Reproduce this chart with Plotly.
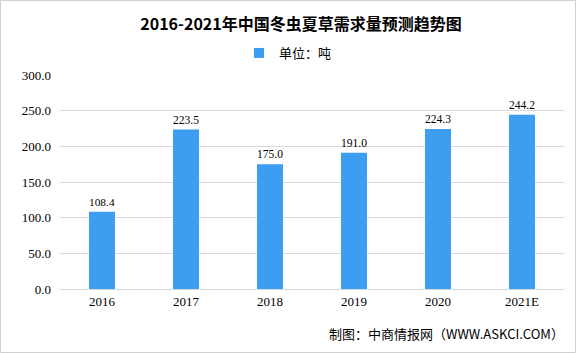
import plotly.graph_objects as go

categories = ["2016", "2017", "2018", "2019", "2020", "2021E"]
values = [108.4, 223.5, 175.0, 191.0, 224.3, 244.2]
series_name = "单位：吨"
title_text = "2016-2021年中国冬虫夏草需求量预测趋势图"
source_text = "制图：中商情报网（WWW.ASKCI.COM）"

L, R, T, B = 60, 12, 75, 64
W, H = 576, 353
pw, ph = W - L - R, H - T - B

def px2x(px):
    return (px - L) / pw

def py2y(py):
    return 1 - (py - T) / ph

num_font = "Liberation Serif, Noto Sans CJK SC, sans-serif"
cjk_font = "Noto Sans CJK SC, sans-serif"

fig = go.Figure()
fig.add_trace(go.Bar(
    x=categories, y=values, name=series_name,
    marker=dict(color="#3d9df0", line=dict(width=0)),
    width=0.31,
    text=[f"{v:.1f}" for v in values],
    textposition="outside",
    textfont=dict(family=num_font, size=13, color="#000000"),
    cliponaxis=False,
    showlegend=False,
))
# legend entry with a square symbol
fig.add_trace(go.Scatter(
    x=[None], y=[None], mode="markers", name=series_name,
    marker=dict(symbol="square", size=10, color="#3d9df0"),
    showlegend=True,
))

fig.update_layout(
    width=W, height=H,
    margin=dict(l=L, r=R, t=T, b=B),
    paper_bgcolor="white", plot_bgcolor="white",
    title=dict(text="<b>" + title_text + "</b>", x=px2x(301), xref="paper",
               y=1 - 24 / H, yref="container", xanchor="center", yanchor="middle",
               font=dict(family=cjk_font, size=16, color="#000000")),
    legend=dict(orientation="h", x=px2x(288), xanchor="center", y=py2y(53), yanchor="middle",
                font=dict(family=cjk_font, size=13, color="#000000"),
                itemwidth=30, bgcolor="rgba(0,0,0,0)"),
    yaxis=dict(range=[0, 300], dtick=50, tickformat=".1f", showgrid=True, gridcolor="#d9d9d9",
               gridwidth=1, zeroline=False, showline=False, ticks="",
               tickfont=dict(family=num_font, size=13, color="#000000"), ticklabelstandoff=8),
    xaxis=dict(showline=True, linecolor="#d9d9d9", linewidth=1, ticks="",
               tickfont=dict(family=num_font, size=13, color="#000000")),
    bargap=0.69,
    showlegend=True,
)

fig.add_annotation(text=source_text, xref="paper", yref="paper", x=px2x(566), y=py2y(333),
                   xanchor="right", yanchor="middle", showarrow=False,
                   font=dict(family=cjk_font, size=13, color="#000000"))

fig.add_shape(type="rect", xref="paper", yref="paper",
              x0=px2x(0.5), x1=px2x(575.5), y0=py2y(352.5), y1=py2y(0.5),
              line=dict(color="#d0d0d0", width=1), fillcolor="rgba(0,0,0,0)", layer="above")

fig.write_html("out.html")
